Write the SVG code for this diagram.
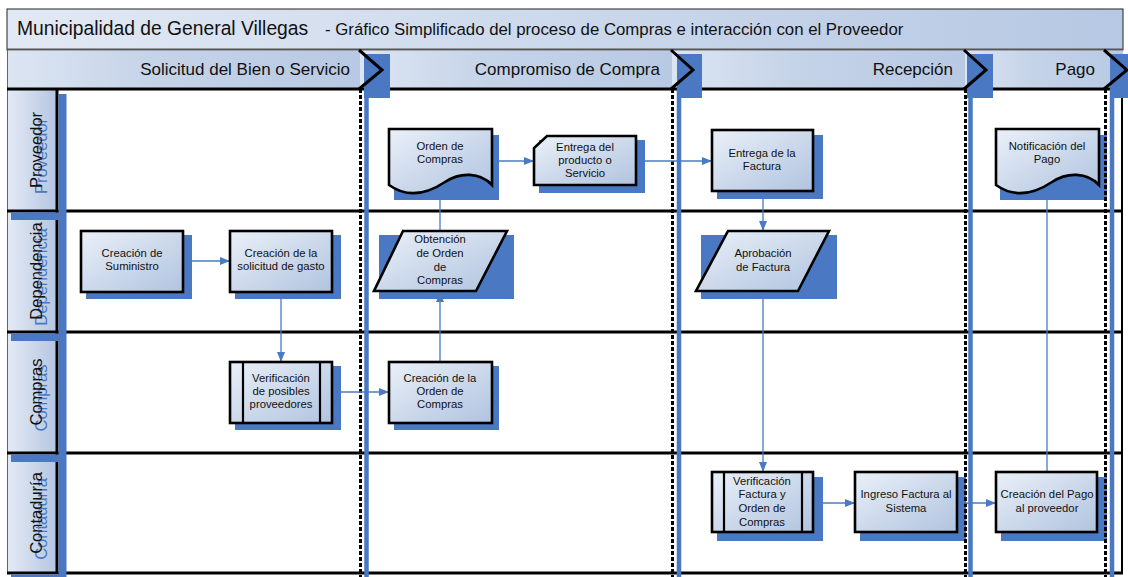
<svg xmlns="http://www.w3.org/2000/svg" width="1128" height="577" viewBox="0 0 1128 577">
<defs>
<linearGradient id="gTitle" x1="0" y1="0" x2="1" y2="0"><stop offset="0" stop-color="#e2e9f4"/><stop offset="1" stop-color="#b6c8e3"/></linearGradient>
<linearGradient id="gPhase" x1="0" y1="0" x2="1" y2="0"><stop offset="0" stop-color="#dce5f2"/><stop offset="0.4" stop-color="#c6d4e9"/><stop offset="1" stop-color="#b8c9e3"/></linearGradient>
<linearGradient id="gLane" x1="0" y1="0" x2="1" y2="0"><stop offset="0" stop-color="#e4eaf5"/><stop offset="1" stop-color="#b4c6e1"/></linearGradient>
<linearGradient id="gNode" x1="0" y1="0" x2="1" y2="1"><stop offset="0" stop-color="#eaf0f8"/><stop offset="1" stop-color="#b0c3df"/></linearGradient>
<marker id="arr" viewBox="0 0 10 8" refX="10" refY="4" markerWidth="10" markerHeight="8" markerUnits="userSpaceOnUse" orient="auto"><path d="M0,0 L10,4 L0,8 Z" fill="#4a7ac4"/></marker>
</defs>
<style>
.t{font-family:"Liberation Sans",Arial,sans-serif;fill:#111}
.nt{font-size:11.3px;text-anchor:middle}
.ph{font-size:17px;text-anchor:end}
.ln{font-size:16.5px;text-anchor:middle}
.lnb{font-size:16.5px;text-anchor:middle;fill:#4a78c2}
.sh{fill:#4a78c2}
.nd{fill:url(#gNode);stroke:#000;stroke-width:2.6}
.sub{fill:none;stroke:#000;stroke-width:2.2}
.cn{fill:none;stroke:#4a7ac4;stroke-width:1.3}
.bl{stroke:#000;stroke-width:3}
.dot{stroke:#000;stroke-width:3;stroke-dasharray:4 2}
.bb{stroke:#4a78c2;stroke-width:4.5}
.chev{fill:none;stroke:#000;stroke-width:3}
</style>
<rect x="0" y="0" width="1128" height="577" fill="#fff"/>

<g id="title">
<rect x="7" y="9" width="1116" height="41" fill="url(#gTitle)" stroke="#222" stroke-width="1"/>
<line x1="7" y1="49.5" x2="1123" y2="49.5" stroke="#555" stroke-width="2"/>
<text class="t" x="17" y="35" font-size="19.3">Municipalidad de General Villegas</text>
<text class="t" x="325" y="35" font-size="16.8">- Gráfico Simplificado del proceso de Compras e interacción con el Proveedor</text>
</g>

<g id="phases">
<rect x="7" y="50.5" width="353" height="38.5" fill="url(#gPhase)"/>
<rect x="360" y="50.5" width="312" height="38.5" fill="url(#gPhase)"/>
<rect x="672" y="50.5" width="293" height="38.5" fill="url(#gPhase)"/>
<rect x="965" y="50.5" width="158" height="38.5" fill="url(#gPhase)"/>
</g>

<g id="lanes">
<rect x="8" y="89" width="49" height="122" fill="url(#gLane)"/>
<rect x="8" y="211" width="49" height="121" fill="url(#gLane)"/>
<rect x="8" y="332" width="49" height="121" fill="url(#gLane)"/>
<rect x="8" y="453" width="49" height="120" fill="url(#gLane)"/>
<line x1="7.5" y1="50" x2="7.5" y2="573" stroke="#666" stroke-width="1"/>
<line x1="57" y1="89" x2="57" y2="573" class="bl"/>
<line x1="1122" y1="89" x2="1122" y2="573" stroke="#000" stroke-width="2"/>
<line x1="7" y1="89" x2="1123" y2="89" class="bl"/>
<line x1="7" y1="211" x2="1123" y2="211" class="bl"/>
<line x1="7" y1="332" x2="1123" y2="332" class="bl"/>
<line x1="7" y1="453" x2="1123" y2="453" class="bl"/>
<line x1="7" y1="573" x2="1123" y2="573" class="bl"/>
<rect class="sh" x="58.5" y="94" width="8" height="483"/>
<rect class="sh" x="11" y="212.5" width="47.5" height="7.5"/>
<rect class="sh" x="11" y="333.5" width="47.5" height="7.5"/>
<rect class="sh" x="11" y="454.5" width="47.5" height="7.5"/>
<rect class="sh" x="11" y="574.5" width="55" height="3"/>
<text class="t lnb" transform="translate(46.5,156) rotate(-90)">Proveedor</text>
<text class="t ln" transform="translate(41.5,150) rotate(-90)">Proveedor</text>
<text class="t lnb" transform="translate(46.5,277) rotate(-90)">Dependencia</text>
<text class="t ln" transform="translate(41.5,271) rotate(-90)">Dependencia</text>
<text class="t lnb" transform="translate(46.5,398) rotate(-90)">Compras</text>
<text class="t ln" transform="translate(41.5,392) rotate(-90)">Compras</text>
<text class="t lnb" transform="translate(46.5,519) rotate(-90)">Contaduría</text>
<text class="t ln" transform="translate(41.5,513) rotate(-90)">Contaduría</text>
</g>

<g id="shadows">
<rect class="sh" x="394" y="135" width="105" height="65"/>
<rect class="sh" x="539" y="140" width="106" height="53"/>
<rect class="sh" x="717" y="135" width="106" height="64"/>
<rect class="sh" x="1000" y="135" width="107" height="65"/>
<rect class="sh" x="86" y="235" width="106" height="64"/>
<rect class="sh" x="235" y="235" width="106" height="64"/>
<rect class="sh" x="379" y="235" width="135" height="64"/>
<rect class="sh" x="701" y="235" width="136" height="64"/>
<rect class="sh" x="235" y="366" width="106" height="64"/>
<rect class="sh" x="394" y="366" width="105" height="64"/>
<rect class="sh" x="717" y="477" width="106" height="64"/>
<rect class="sh" x="860" y="477" width="106" height="64"/>
<rect class="sh" x="1001" y="477" width="106" height="64"/>
</g>

<g id="separators">
<line x1="360.5" y1="89" x2="360.5" y2="577" class="dot"/>
<line x1="366.5" y1="89" x2="366.5" y2="577" class="bb"/>
<line x1="672.5" y1="89" x2="672.5" y2="577" class="dot"/>
<line x1="679" y1="89" x2="679" y2="577" class="bb"/>
<line x1="965.5" y1="89" x2="965.5" y2="577" class="dot"/>
<line x1="970.5" y1="89" x2="970.5" y2="577" class="bb"/>
<line x1="1105.5" y1="89" x2="1105.5" y2="577" class="dot"/>
<line x1="1112" y1="89" x2="1112" y2="577" class="bb"/>
</g>

<g id="connectors">
<path class="cn" d="M183,261 H230" marker-end="url(#arr)"/>
<path class="cn" d="M281,292 V362" marker-end="url(#arr)"/>
<path class="cn" d="M332,392 H389" marker-end="url(#arr)"/>
<path class="cn" d="M440,362 V292" marker-end="url(#arr)"/>
<path class="cn" d="M440,231 V186" marker-end="url(#arr)"/>
<path class="cn" d="M492,161 H534" marker-end="url(#arr)"/>
<path class="cn" d="M636,161 H712" marker-end="url(#arr)"/>
<path class="cn" d="M763,191 V231" marker-end="url(#arr)"/>
<path class="cn" d="M763,291 V472" marker-end="url(#arr)"/>
<path class="cn" d="M813,503 H855" marker-end="url(#arr)"/>
<path class="cn" d="M957,503 H996" marker-end="url(#arr)"/>
<path class="cn" d="M1047,472 V186" marker-end="url(#arr)"/>
</g>

<g id="n-orden">
<path class="nd" d="M389,129 H492 V185 C480,172 460,172 445,182 C430,192 410,200 389,185 Z"/>
<text class="t nt" x="440" y="150">Orden de</text>
<text class="t nt" x="440" y="163">Compras</text>
</g>
<g id="n-entrega-producto">
<path class="nd" d="M547,136 H636 V185 H534 V148 Z"/>
<text class="t nt" x="585" y="151">Entrega del</text>
<text class="t nt" x="585" y="164">producto o</text>
<text class="t nt" x="585" y="177">Servicio</text>
</g>
<g id="n-entrega-factura">
<rect class="nd" x="712" y="130" width="101" height="61"/>
<text class="t nt" x="762" y="157">Entrega de la</text>
<text class="t nt" x="762" y="170">Factura</text>
</g>
<g id="n-notificacion">
<path class="nd" d="M996,129 H1099 V185 C1087,172 1067,172 1052,182 C1037,192 1017,200 996,185 Z"/>
<text class="t nt" x="1047" y="150">Notificación del</text>
<text class="t nt" x="1047" y="163">Pago</text>
</g>
<g id="n-suministro">
<rect class="nd" x="81" y="231" width="102" height="61"/>
<text class="t nt" x="132" y="257">Creación de</text>
<text class="t nt" x="132" y="270">Suministro</text>
</g>
<g id="n-solicitud">
<rect class="nd" x="230" y="231" width="102" height="61"/>
<text class="t nt" x="281" y="257">Creación de la</text>
<text class="t nt" x="281" y="270">solicitud de gasto</text>
</g>
<g id="n-obtencion">
<path class="nd" d="M403,231 H507 L476,291 H374 Z"/>
<text class="t nt" x="440" y="243">Obtención</text>
<text class="t nt" x="440" y="257">de Orden</text>
<text class="t nt" x="440" y="271">de</text>
<text class="t nt" x="440" y="284">Compras</text>
</g>
<g id="n-aprobacion">
<path class="nd" d="M728,231 H829 L798,291 H696 Z"/>
<text class="t nt" x="763" y="257">Aprobación</text>
<text class="t nt" x="763" y="271">de Factura</text>
</g>
<g id="n-verif-prov">
<rect class="nd" x="230" y="362" width="102" height="61"/>
<line class="sub" x1="243" y1="362" x2="243" y2="423"/>
<line class="sub" x1="320" y1="362" x2="320" y2="423"/>
<text class="t nt" x="281" y="382">Verificación</text>
<text class="t nt" x="281" y="395">de posibles</text>
<text class="t nt" x="281" y="408">proveedores</text>
</g>
<g id="n-creacion-orden">
<rect class="nd" x="389" y="362" width="103" height="61"/>
<text class="t nt" x="440" y="382">Creación de la</text>
<text class="t nt" x="440" y="395">Orden de</text>
<text class="t nt" x="440" y="408">Compras</text>
</g>
<g id="n-verif-factura">
<rect class="nd" x="712" y="472" width="101" height="60"/>
<line class="sub" x1="724" y1="472" x2="724" y2="532"/>
<line class="sub" x1="802" y1="472" x2="802" y2="532"/>
<text class="t nt" x="762" y="485">Verificación</text>
<text class="t nt" x="762" y="498">Factura y</text>
<text class="t nt" x="762" y="512">Orden de</text>
<text class="t nt" x="762" y="526">Compras</text>
</g>
<g id="n-ingreso">
<rect class="nd" x="855" y="472" width="102" height="60"/>
<text class="t nt" x="906" y="498">Ingreso Factura al</text>
<text class="t nt" x="906" y="512">Sistema</text>
</g>
<g id="n-pago">
<rect class="nd" x="996" y="472" width="101" height="60"/>
<text class="t nt" x="1047" y="498">Creación del Pago</text>
<text class="t nt" x="1047" y="512">al proveedor</text>
</g>

<g id="phase-heads">
<rect class="sh" x="364" y="54" width="26" height="44"/>
<rect class="sh" x="677" y="54" width="25" height="44"/>
<rect class="sh" x="967" y="54" width="26" height="44"/>
<rect class="sh" x="1110" y="54" width="18" height="44"/>
<polyline class="chev" points="359,50 382,70 359,89"/>
<polyline class="chev" points="671,50 693,70 671,89"/>
<polyline class="chev" points="964,50 986,70 964,89"/>
<polyline class="chev" points="1104,50 1127,70 1104,89"/>
<text class="t ph" x="350" y="75">Solicitud del Bien o Servicio</text>
<text class="t ph" x="660" y="75">Compromiso de Compra</text>
<text class="t ph" x="953" y="75">Recepción</text>
<text class="t ph" x="1095" y="75">Pago</text>
</g>
</svg>
